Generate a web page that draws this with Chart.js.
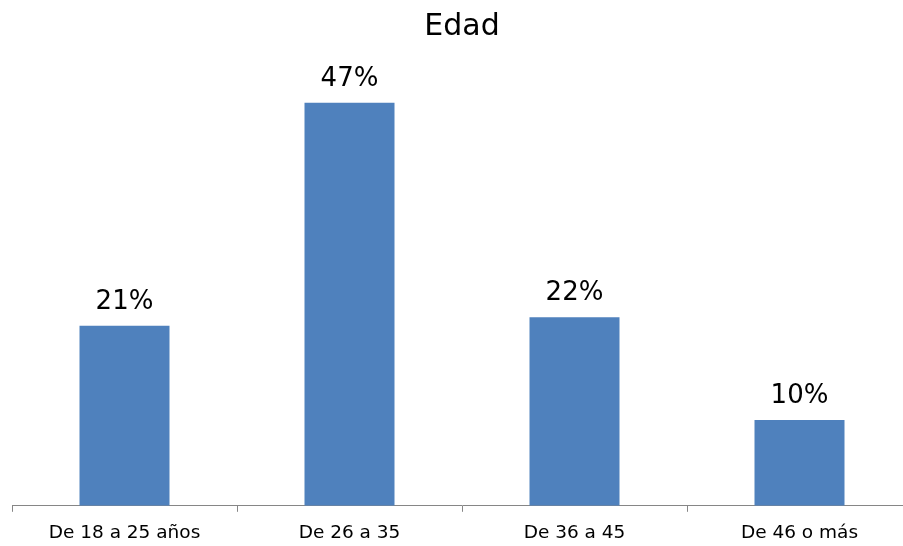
<!DOCTYPE html>
<html>
<head>
<meta charset="utf-8">
<script src="https://cdn.jsdelivr.net/npm/chart.js@4"></script>
<style>
  html, body { margin: 0; padding: 0; background: #fff; overflow: hidden; }
  #chart { display: block; }
</style>
</head>
<body>
<canvas id="chart" width="924" height="557"></canvas>
<script>
const categories = ['De 18 a 25 años', 'De 26 a 35', 'De 36 a 45', 'De 46 o más'];
const values = [21, 47, 22, 10];
const chartTitle = 'Edad';

// draw the % value above each bar
const valueLabels = {
  id: 'valueLabels',
  afterDatasetsDraw(chart) {
    const ctx = chart.ctx;
    const meta = chart.getDatasetMeta(0);
    ctx.save();
    ctx.font = '26px "DejaVu Sans"';
    ctx.fillStyle = '#000';
    ctx.textAlign = 'center';
    ctx.textBaseline = 'alphabetic';
    meta.data.forEach((bar, i) => {
      ctx.fillText(values[i] + '%', bar.x, bar.y - 17);
    });
    ctx.restore();
  }
};

const ctx = document.getElementById('chart').getContext('2d');
const myChart = new Chart(ctx, {
  type: 'bar',
  data: {
    labels: categories,
    datasets: [
      {
        data: values,
        backgroundColor: '#4F81BD',
        barPercentage: 0.4,
        categoryPercentage: 1,
      },
    ],
  },
  options: {
    responsive: false,
    animation: false,
    layout: {
      padding: { left: 12, right: 12, top: 0, bottom: 3 },
    },
    plugins: {
      legend: { display: false },
      tooltip: { enabled: false },
      title: {
        display: true,
        text: chartTitle,
        color: '#000',
        font: { family: 'DejaVu Sans', size: 30, weight: 'normal' },
        padding: { top: 9, bottom: 32 },
      },
    },
    scales: {
      y: {
        display: false,
        min: 0,
        max: 50,
      },
      x: {
        grid: {
          display: true,
          drawOnChartArea: false,
          drawTicks: true,
          tickLength: 6,
          color: '#868686',
        },
        border: { color: '#868686', width: 1 },
        ticks: {
          color: '#000',
          padding: 10,
          maxRotation: 0,
          font: { family: 'DejaVu Sans', size: 18.5 },
        },
      },
    },
  },
  plugins: [valueLabels],
});
</script>
</body>
</html>
